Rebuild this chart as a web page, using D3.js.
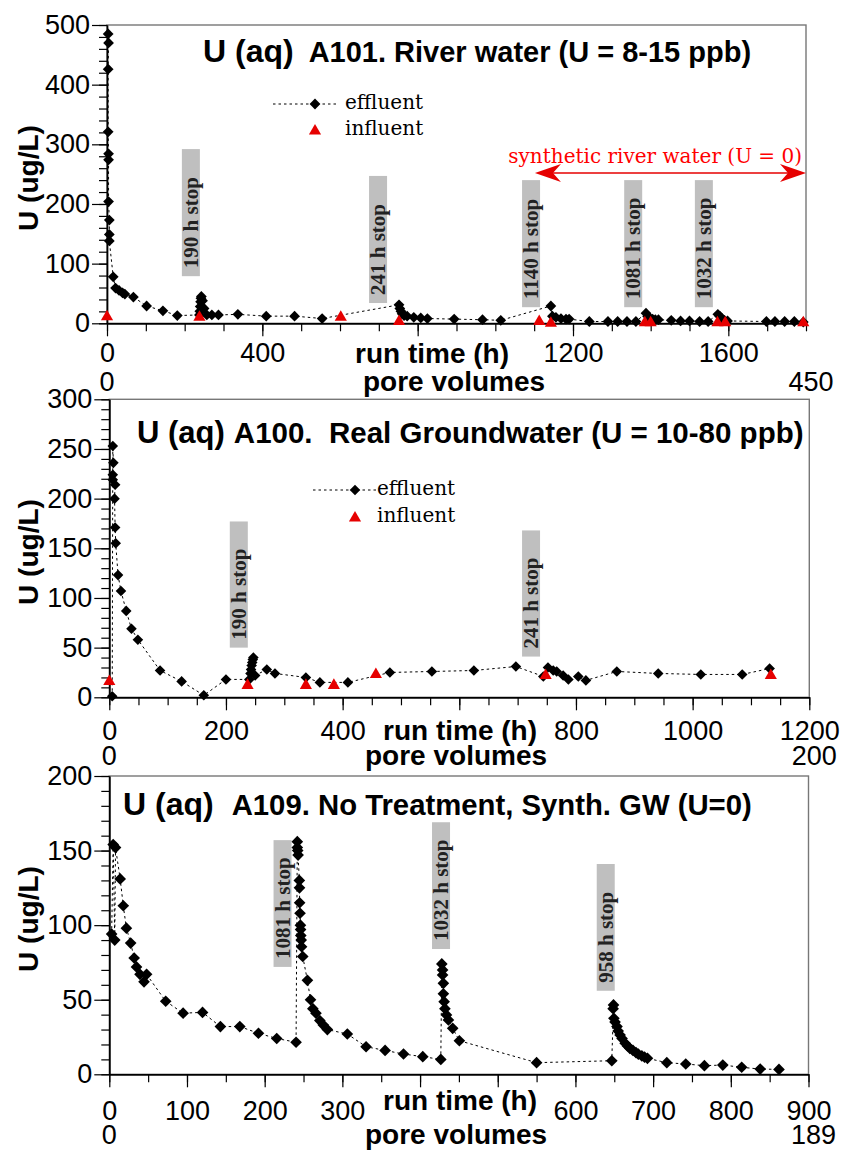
<!DOCTYPE html>
<html>
<head>
<meta charset="utf-8">
<script src="https://cdn.jsdelivr.net/npm/d3@7"></script>
<style>
  body { margin: 0; background: #fff; }
  text { white-space: pre; }
</style>
</head>
<body>
<script>
// ---- panel 1 : A101 river water ----
let p1Hours = [3, 4, 3, 3, 4, 4, 4, 6, 6, 6,
  16, 22, 31, 40, 46, 68, 102, 144, 181,
  238, 239, 240, 241, 242, 243, 246, 250, 257, 270, 287,
  337, 410, 483, 554,
  752, 754, 757, 760, 765, 773, 790, 808, 825,
  894, 967, 1014,
  1143, 1147, 1156, 1169, 1182, 1190,
  1242, 1290, 1315, 1339, 1362,
  1388, 1392, 1398, 1405, 1412, 1420,
  1453, 1477, 1500, 1526, 1548,
  1573, 1578, 1584, 1590, 1598,
  1698, 1720, 1745, 1770, 1793];
let p1Effluent = [485, 470, 426, 321, 284, 274, 204, 173, 149, 138,
  78, 59, 55, 51, 49, 44, 29, 21, 13,
  14, 20, 28, 36, 42, 45, 38, 25, 14, 14, 14,
  15, 12, 12, 8,
  31, 25, 20, 16, 13, 12, 10, 9, 8,
  7, 6, 5,
  29, 12, 10, 8, 7, 7,
  3, 3, 3, 3, 3,
  17, 12, 9, 7, 6, 6,
  5, 4, 4, 3, 3,
  15, 12, 8, 5, 4,
  3, 3, 3, 3, 2];
let p1InfHours = [0, 238, 602, 752, 1113, 1143, 1385, 1400, 1572, 1592, 1793];
let p1Influent = [11, 10, 10, 3, 3, 0, 1, 1, 1, 1, 1];
let p1XLabels = [0, 400, 1200, 1600];
let p1StopLabels = ["190 h stop", "241 h stop", "1140 h stop", "1081 h stop", "1032 h stop"];
let p1StopHours = [216, 698, 1092, 1355, 1537];
let p1StopTop = [292, 247, 240, 240, 240];
let p1StopBottom = [79, 34, 27, 27, 27];

// ---- panel 2 : A100 real groundwater ----
let p2Hours = [5, 6, 7, 6, 6, 10, 9, 10, 11, 15, 20, 29, 38, 49, 87, 124, 162, 200,
  240, 242, 243, 244, 245, 246, 247, 250,
  270, 284, 337, 361, 409, 481, 553, 625, 697, 744, 752, 761, 767, 778, 787, 804, 817,
  870, 941, 1014, 1085, 1132];
let p2Effluent = [1, 253, 236, 224, 219, 214, 200, 171, 155, 123, 107, 87, 69, 58, 27, 16, 2, 18,
  18, 24, 28, 32, 35, 38, 40, 22,
  28, 24, 20, 15, 15, 25, 26, 27, 31, 21, 30, 27, 26, 22, 18, 21, 17,
  26, 24, 23, 23, 29];
let p2InfHours = [0, 237, 337, 385, 457, 748, 1134];
let p2Influent = [16, 12, 12, 12, 23, 22, 22];
let p2XLabels = [0, 200, 400, 800, 1000, 1200];
let p2StopLabels = ["190 h stop", "241 h stop"];
let p2StopHours = [222, 723];
let p2StopTop = [177, 168];
let p2StopBottom = [50, 41];

// ---- panel 3 : A109 no treatment ----
let p3Hours = [3, 5, 7, 8, 14, 18, 22, 27.5, 32, 35, 39.5, 44.7, 48, 72.6, 95, 120, 143, 168, 192, 215.5, 240.4,
  242, 242, 242.5, 243, 244.6, 244.8, 245, 245.5, 246, 246.2, 246.5, 247, 247.5, 249,
  255, 259, 262, 266, 271, 275.5, 280.7, 306.4, 330.5, 355, 378.7, 403.5, 426.7,
  428, 429, 429, 430, 430, 431, 432, 434, 436.5, 442, 450.6,
  550, 646.8,
  649, 648.5, 649.5, 651, 653.5, 655, 657.5, 660, 664, 667, 670, 674, 678, 681, 685.5, 689, 692.7,
  717.6, 742, 766, 789.7, 814, 837.8, 862];
let p3Effluent = [94, 154, 90, 152, 131, 113, 98, 88, 78, 72, 67, 62, 67, 49, 41, 41.5, 32, 32, 27.5, 24, 21.5,
  156, 152, 150, 147, 130, 125, 115, 108, 100, 97, 93, 90, 85.5, 79,
  63, 50, 44, 41, 36, 33, 30, 27, 18.5, 16, 13.6, 11.8, 10,
  74, 70, 66.6, 61, 54, 48.7, 44, 39.8, 36.4, 30.8, 22.5,
  7.8, 9.1,
  46.5, 44, 37.5, 35, 32, 29, 26.3, 24, 20.8, 19, 17.4, 16, 14.5, 13.5, 12.3, 11.5, 10.7,
  7.8, 6.9, 5.8, 6.2, 4.7, 3.5, 3.3];
let p3XLabels = [0, 100, 200, 300, 600, 700, 800, 900];
let p3StopLabels = ["1081 h stop", "1032 h stop", "958 h stop"];
let p3StopHours = [223, 427, 639];
let p3StopTop = [157, 169, 141];
let p3StopBottom = [72, 84, 56];

const SANS = "'Liberation Sans', Arial, sans-serif";
const SERIF = "'DejaVu Serif', serif";
const SERIF_B = "'Liberation Serif', 'Times New Roman', serif";
const RED = "#e60000";

let svg = d3.select('body').append('svg').attr('width', 842).attr('height', 1151);

let zip = (hs, vs) => hs.map((h, i) => ({ h: h, v: vs[i] }));

function styleAxis(sel, fs) {
  sel.attr('font-family', SANS).attr('font-size', fs);
  sel.selectAll('text').attr('fill', '#000');
  sel.selectAll('line').attr('stroke', '#000').attr('stroke-width', 1.2);
  sel.select('.domain').attr('stroke', '#000').attr('stroke-width', 1.4);
}

function drawPanel(p) {
  let x = d3.scaleLinear().domain([0, p.xMax]).range([p.left, p.right]);
  let y = d3.scaleLinear().domain([0, p.yMax]).range([p.bottom, p.top]);
  let g = svg.append('g');

  // frame
  g.append('rect')
    .attr('x', p.left).attr('y', p.top)
    .attr('width', p.right - p.left).attr('height', p.bottom - p.top)
    .attr('fill', 'none').attr('stroke', '#777').attr('stroke-width', 1.4);

  // stop boxes
  p.stopLabels.forEach((lab, i) => {
    let cx = x(p.stopHours[i]);
    let yt = y(p.stopTop[i]);
    let yb = y(p.stopBottom[i]);
    g.append('rect')
      .attr('x', cx - 9).attr('y', yt)
      .attr('width', 18).attr('height', yb - yt)
      .attr('fill', '#bfbfbf');
    g.append('text')
      .attr('transform', `translate(${cx + 7},${yb - 8}) rotate(-90)`)
      .attr('font-family', SERIF_B).attr('font-weight', 'bold')
      .attr('font-size', 21).attr('fill', '#222')
      .text(lab);
  });

  // y axis: minor then major
  g.append('g').attr('transform', `translate(${p.left},0)`)
    .call(d3.axisLeft(y).tickValues(d3.range(0, p.yMax + 0.01, p.yMinor)).tickSize(8).tickSizeOuter(0).tickFormat(''))
    .call(styleAxis, 27);
  g.append('g').attr('transform', `translate(${p.left},0)`)
    .call(d3.axisLeft(y).tickValues(d3.range(0, p.yMax + 0.01, p.yMajor)).tickSize(15).tickSizeOuter(0).tickPadding(2))
    .call(styleAxis, 27);

  // x axis: minor then major
  g.append('g').attr('transform', `translate(0,${p.bottom})`)
    .call(d3.axisBottom(x).tickValues(d3.range(0, p.xMax + 0.01, p.xMinor)).tickSize(8).tickSizeOuter(0).tickFormat(''))
    .call(styleAxis, 27);
  g.append('g').attr('transform', `translate(0,${p.bottom})`)
    .call(d3.axisBottom(x).tickValues(d3.range(0, p.xMax + 0.01, p.xMajor)).tickSize(13).tickSizeOuter(0)
      .tickPadding(p.xPad).tickFormat((d) => p.xLabels.includes(d) ? d : ''))
    .call(styleAxis, 27);

  // axis titles
  g.append('text')
    .attr('transform', `translate(38,${p.yLabelY}) rotate(-90)`)
    .attr('text-anchor', 'middle')
    .attr('font-family', SANS).attr('font-weight', 'bold').attr('font-size', 28)
    .text('U (ug/L)');
  g.append('text')
    .attr('x', p.runX).attr('y', p.runY)
    .attr('font-family', SANS).attr('font-weight', 'bold').attr('font-size', 28)
    .text('run time (h)');
  g.append('text')
    .attr('x', p.poreX).attr('y', p.poreY)
    .attr('font-family', SANS).attr('font-weight', 'bold').attr('font-size', 28)
    .text('pore volumes');
  g.append('text')
    .attr('x', x(0)).attr('y', p.pvY).attr('text-anchor', 'middle')
    .attr('font-family', SANS).attr('font-size', 27)
    .text('0');
  g.append('text')
    .attr('x', x(p.xMax) + 5).attr('y', p.pvY).attr('text-anchor', 'middle')
    .attr('font-family', SANS).attr('font-size', 27)
    .text(p.pvMax);

  // title
  let t = g.append('text').attr('x', p.titleX).attr('y', p.titleY)
    .attr('font-family', SANS).attr('font-weight', 'bold');
  t.append('tspan').attr('font-size', p.bigSize).text(p.title1);
  t.append('tspan').attr('font-size', p.subSize).attr('dx', p.titleGap).text(p.title2);

  // effluent line + diamonds
  let eff = zip(p.hours, p.effluent);
  let line = d3.line().x((d) => x(d.h)).y((d) => y(d.v));
  g.append('path').datum(eff)
    .attr('d', line)
    .attr('fill', 'none').attr('stroke', '#000').attr('stroke-width', 1)
    .attr('stroke-dasharray', '2.5,3');

  let diamond = d3.symbol().type(d3.symbolSquare).size(p.dSize);
  g.selectAll('.eff').data(eff).enter().append('path')
    .attr('class', 'eff')
    .attr('d', diamond)
    .attr('transform', (d) => `translate(${x(d.h)},${y(d.v)}) rotate(45)`)
    .attr('fill', '#000');

  // influent triangles
  let tri = d3.symbol().type(d3.symbolTriangle).size(64);
  if (p.infHours) {
    g.selectAll('.inf').data(zip(p.infHours, p.influent)).enter().append('path')
      .attr('class', 'inf')
      .attr('d', tri)
      .attr('transform', (d) => `translate(${x(d.h)},${y(d.v)})`)
      .attr('fill', RED);
  }

  // legend
  if (p.legend) {
    let L = p.legend;
    g.append('line')
      .attr('x1', L.x0).attr('x2', L.x1).attr('y1', L.y1).attr('y2', L.y1)
      .attr('stroke', '#000').attr('stroke-width', 1).attr('stroke-dasharray', '2.5,3');
    g.append('path').attr('d', diamond)
      .attr('transform', `translate(${L.xd},${L.y1}) rotate(45)`);
    g.append('path').attr('d', tri)
      .attr('transform', `translate(${L.xd},${L.y2})`).attr('fill', RED);
    g.append('text').attr('x', L.tx).attr('y', L.y1 + 5)
      .attr('font-family', SERIF).attr('font-size', 20).text('effluent');
    g.append('text').attr('x', L.tx).attr('y', L.y2 + 4)
      .attr('font-family', SERIF).attr('font-size', 20).text('influent');
  }

  // red double arrow
  if (p.arrow) {
    let A = p.arrow;
    let xa = x(A.h0), xb = x(A.h1), ya = y(A.v);
    g.append('line').attr('x1', xa + 5).attr('x2', xb - 5).attr('y1', ya).attr('y2', ya)
      .attr('stroke', RED).attr('stroke-width', 1.5);
    g.append('path')
      .attr('d', `M${xa},${ya} L${xa + 26},${ya - 9} L${xa + 18},${ya} L${xa + 26},${ya + 9} Z`)
      .attr('fill', RED);
    g.append('path')
      .attr('d', `M${xb},${ya} L${xb - 26},${ya - 9} L${xb - 18},${ya} L${xb - 26},${ya + 9} Z`)
      .attr('fill', RED);
    g.append('text').attr('x', xb - 4).attr('y', ya - 10)
      .attr('text-anchor', 'end')
      .attr('font-family', SERIF).attr('font-size', 20).attr('fill', '#ff0000')
      .text(A.label);
  }
}

drawPanel({
  left: 107, right: 806, top: 25, bottom: 323.3,
  xMax: 1800, yMax: 500, xMajor: 400, xMinor: 100, yMajor: 100, yMinor: 20,
  xLabels: p1XLabels, xPad: 7,
  hours: p1Hours, effluent: p1Effluent, infHours: p1InfHours, influent: p1Influent,
  stopLabels: p1StopLabels, stopHours: p1StopHours, stopTop: p1StopTop, stopBottom: p1StopBottom,
  yLabelY: 178, runX: 355, runY: 363, poreX: 363, poreY: 391, pvY: 391, pvMax: '450',
  title1: 'U (aq)', title2: 'A101. River water (U = 8-15 ppb)', titleX: 203, titleY: 62, bigSize: 32, subSize: 29, titleGap: 15,
  dSize: 58,
  legend: { x0: 273, x1: 336, xd: 315, y1: 104, y2: 131, tx: 345 },
  arrow: { h0: 1102, h1: 1800, v: 252, label: 'synthetic river water (U = 0)' }
});

drawPanel({
  left: 109.3, right: 809.3, top: 399.3, bottom: 697.3,
  xMax: 1200, yMax: 300, xMajor: 200, xMinor: 50, yMajor: 50, yMinor: 10,
  xLabels: p2XLabels, xPad: 11,
  hours: p2Hours, effluent: p2Effluent, infHours: p2InfHours, influent: p2Influent,
  stopLabels: p2StopLabels, stopHours: p2StopHours, stopTop: p2StopTop, stopBottom: p2StopBottom,
  yLabelY: 552, runX: 383, runY: 740, poreX: 365, poreY: 765, pvY: 765, pvMax: '200',
  title1: 'U (aq)', title2: 'A100.  Real Groundwater (U = 10-80 ppb)', titleX: 137, titleY: 443, bigSize: 31, subSize: 29.5, titleGap: 9,
  dSize: 56,
  legend: { x0: 313, x1: 377, xd: 355, y1: 490, y2: 518, tx: 377 }
});

drawPanel({
  left: 109.3, right: 808.5, top: 776, bottom: 1074.3,
  xMax: 900, yMax: 200, xMajor: 100, xMinor: 50, yMajor: 50, yMinor: 10,
  xLabels: p3XLabels, xPad: 14,
  hours: p3Hours, effluent: p3Effluent,
  stopLabels: p3StopLabels, stopHours: p3StopHours, stopTop: p3StopTop, stopBottom: p3StopBottom,
  yLabelY: 919, runX: 383, runY: 1110, poreX: 365, poreY: 1144, pvY: 1144, pvMax: '189',
  title1: 'U (aq)', title2: 'A109. No Treatment, Synth. GW (U=0)', titleX: 123, titleY: 815, bigSize: 32, subSize: 29.3, titleGap: 18,
  dSize: 68
});
</script>
</body>
</html>
